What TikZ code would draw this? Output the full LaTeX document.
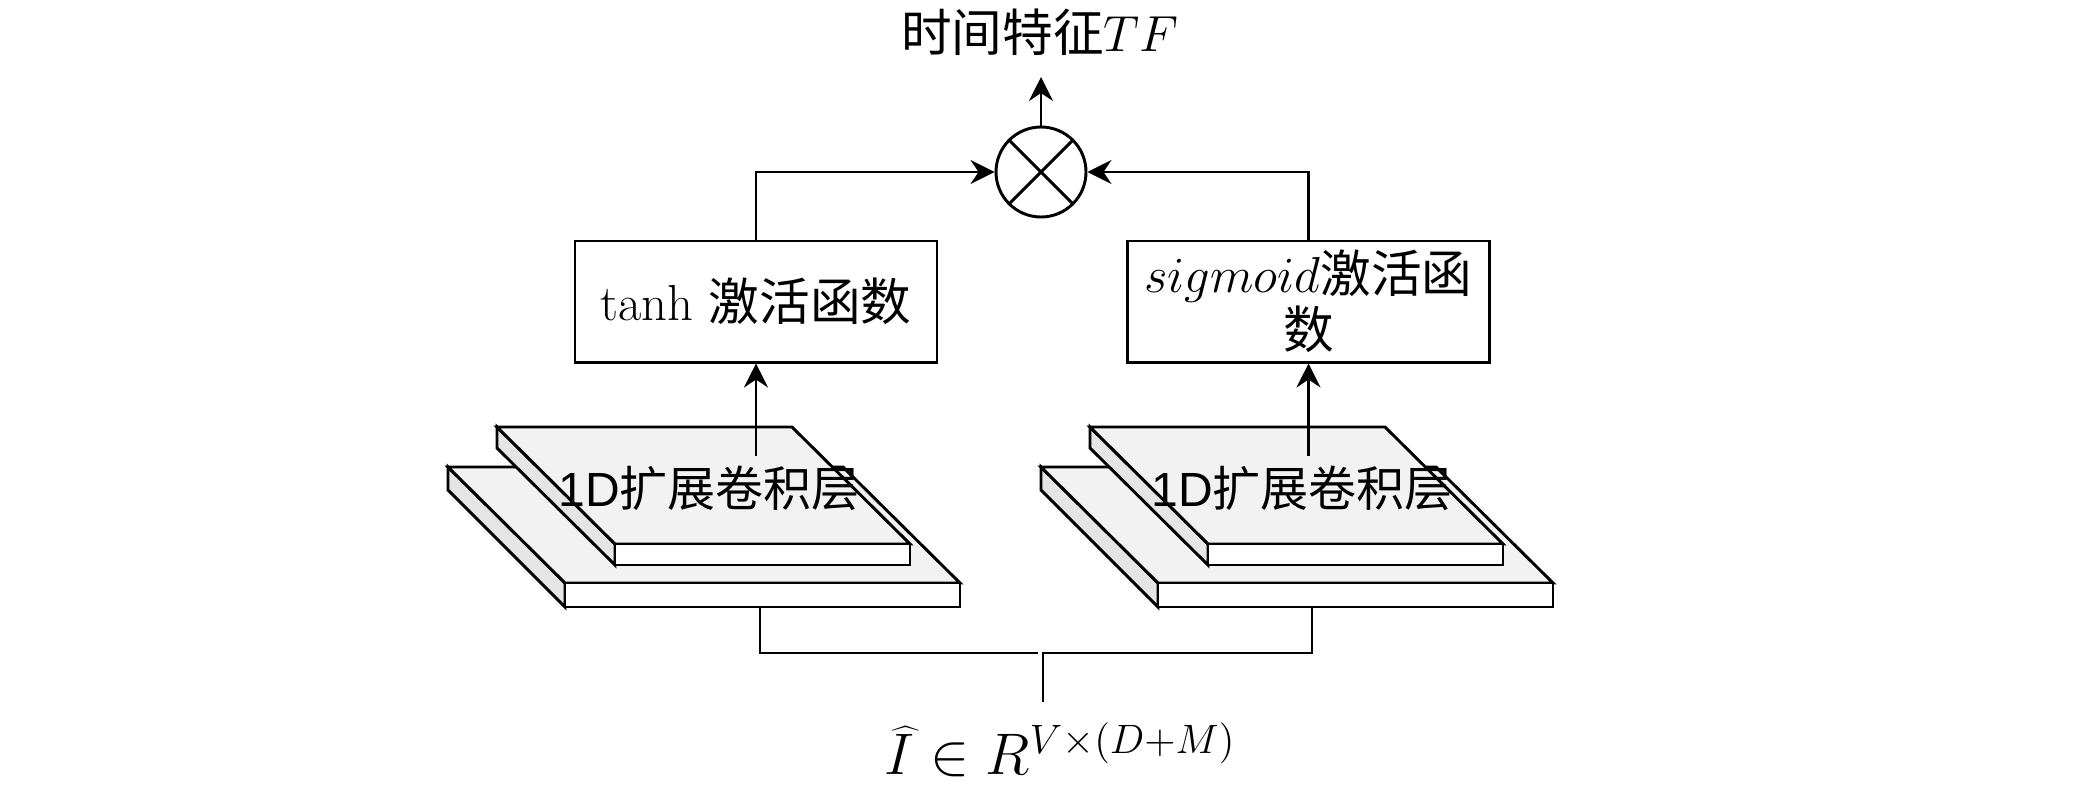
\RequirePackage{fix-cm}
\documentclass[tikz,border=0pt]{standalone}
\usepackage{fontspec}
\newfontfamily\cjk{Noto Sans CJK SC}
\newfontfamily\arial{Liberation Sans}
\usetikzlibrary{arrows.meta}
\begin{document}
\begin{tikzpicture}[x=0.375pt, y=-0.375pt,
    line/.style={line width=1.1pt},
    arrow/.style={line width=1.1pt, -{Stealth[length=9pt, width=9pt, inset=3pt]}},
    actbox/.style={draw, line width=1.1pt, minimum width=135.75pt, minimum height=45.4pt, align=center, inner sep=2pt, font=\fontsize{19}{21}\selectfont},
    topface/.style={draw, line width=1.1pt, fill=gray!10},
    sideface/.style={draw, line width=1.1pt, fill=gray!20},
    frontface/.style={draw, line width=1.1pt, fill=white},
    convlbl/.style={font=\fontsize{18}{20}\selectfont}]
    \useasboundingbox (0,0) rectangle (2076,786);

    % Draw the two stacks of 1D conv layers
    \foreach \dx/\side in {0/L,593/R} {
        % lower plate
        \draw[sideface] (448+\dx,467) -- (565+\dx,583) -- (565+\dx,607) -- (448+\dx,490) -- cycle;
        \draw[topface] (448+\dx,467) -- (843+\dx,467) -- (960+\dx,583) -- (565+\dx,583) -- cycle;
        \draw[frontface] (565+\dx,583) rectangle (960+\dx,607);
        % upper plate
        \draw[sideface] (497+\dx,427) -- (615+\dx,544) -- (615+\dx,565) -- (497+\dx,448) -- cycle;
        \draw[topface] (497+\dx,427) -- (792+\dx,427) -- (910+\dx,544) -- (615+\dx,544) -- cycle;
        \draw[frontface] (615+\dx,544) rectangle (910+\dx,565);
        \node[convlbl] (conv\side) at (709+\dx,488) {{\arial 1D}{\cjk 扩展卷积层}};
    }

    % Draw the activation boxes
    \node[actbox] (tanhbox) at (756,301.5) {$\tanh$ {\cjk 激活函数}};
    \node[actbox] (sigbox) at (1308.5,301.5) {$sigmoid${\cjk 激活函}\\{\cjk 数}};

    % Draw the product node
    \node[draw, circle, line width=1.1pt, minimum size=33.75pt, inner sep=0pt] (mul) at (1041,172) {};
    \draw[line] (mul.north west) -- (mul.south east);
    \draw[line] (mul.north east) -- (mul.south west);

    % Label the output and the input
    \node[font=\fontsize{19}{21}\selectfont] (title) at (1040,32) {{\cjk 时间特征}$TF$};
    \node[font=\fontsize{22}{26}\selectfont, inner sep=7.5pt] (input) at (1060,750) {$\widehat{I} \in R^{V\times(D+M)}$};

    % Connect everything
    \coordinate (tfIn) at (1041,77);
    \coordinate (outL) at (760,607);
    \coordinate (outR) at (1312,607);
    \coordinate (joinL) at (1038,653);
    \coordinate (joinR) at (1043,653);
    \draw[arrow] (tanhbox.south |- convL.north) -- (tanhbox.south);
    \draw[arrow] (sigbox.south |- convR.north) -- (sigbox.south);
    \draw[arrow] (tanhbox.north) |- (mul.west);
    \draw[arrow] (sigbox.north) |- (mul.east);
    \draw[arrow] (mul.north) -- (tfIn);
    \draw[line] (outL) |- (joinL);
    \draw[line] (input.north -| joinR) -- (joinR) -| (outR);
\end{tikzpicture}
\end{document}
